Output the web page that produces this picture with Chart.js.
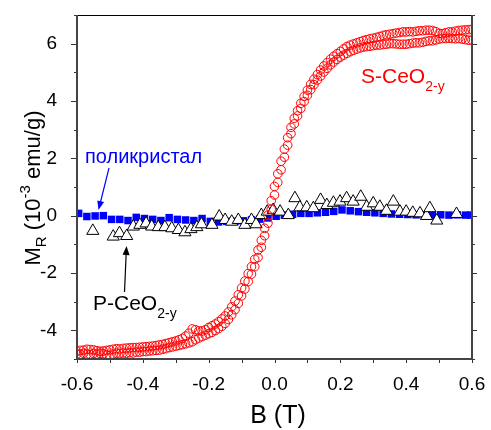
<!DOCTYPE html>
<html>
<head>
<meta charset="utf-8">
<script src="https://cdn.jsdelivr.net/npm/chart.js@4"></script>
<style>
  body { margin: 0; background: #fff; }
  #wrap { width: 491px; height: 430px; }
</style>
</head>
<body>
<div id="wrap"><canvas id="chart"></canvas></div>
<script>
// field sweep of the S-CeO2-y loop (T)
const loopField = [
  -0.60, -0.59, -0.58, -0.57, -0.56, -0.55, -0.54, -0.53, -0.52, -0.51,
  -0.50, -0.49, -0.48, -0.47, -0.46, -0.45, -0.44, -0.43, -0.42, -0.41,
  -0.40, -0.39, -0.38, -0.37, -0.36, -0.35, -0.34, -0.33, -0.32, -0.31,
  -0.30, -0.29, -0.28, -0.27, -0.26, -0.25, -0.24, -0.23, -0.22, -0.21,
  -0.20, -0.19, -0.18, -0.17, -0.16, -0.15, -0.14, -0.13, -0.12, -0.11,
  -0.10, -0.09, -0.08, -0.07, -0.06, -0.05, -0.04, -0.03, -0.02, -0.01,
  0.00, 0.01, 0.02, 0.03, 0.04, 0.05, 0.06, 0.07, 0.08, 0.09,
  0.10, 0.11, 0.12, 0.13, 0.14, 0.15, 0.16, 0.17, 0.18, 0.19,
  0.20, 0.21, 0.22, 0.23, 0.24, 0.25, 0.26, 0.27, 0.28, 0.29,
  0.30, 0.31, 0.32, 0.33, 0.34, 0.35, 0.36, 0.37, 0.38, 0.39,
  0.40, 0.41, 0.42, 0.43, 0.44, 0.45, 0.46, 0.47, 0.48, 0.49,
  0.50, 0.51, 0.52, 0.53, 0.54, 0.55, 0.56, 0.57, 0.58, 0.59, 0.60
];
// lower branch of the loop (10^-3 emu/g)
const sLoopLower = [
  -4.82, -4.84, -4.80, -4.83, -4.85, -4.81, -4.83, -4.80, -4.82, -4.86,
  -4.88, -4.83, -4.80, -4.81, -4.79, -4.80, -4.78, -4.79, -4.76, -4.76,
  -4.74, -4.74, -4.72, -4.71, -4.70, -4.69, -4.66, -4.64, -4.60, -4.58,
  -4.55, -4.53, -4.50, -4.47, -4.44, -4.40, -4.33, -4.27, -4.22, -4.17,
  -4.12, -4.07, -4.01, -3.94, -3.86, -3.76, -3.62, -3.46, -3.28, -3.06,
  -2.80, -2.56, -2.30, -2.04, -1.78, -1.46, -1.10, -0.70, -0.26, 0.22,
  0.72, 1.16, 1.60, 2.04, 2.46, 2.86, 3.20, 3.48, 3.74, 3.98,
  4.20, 4.40, 4.57, 4.73, 4.87, 5.01, 5.14, 5.26, 5.36, 5.45,
  5.53, 5.60, 5.66, 5.72, 5.77, 5.81, 5.85, 5.88, 5.90, 5.91,
  5.93, 5.95, 5.95, 5.97, 5.98, 6.00, 6.00, 5.99, 5.98, 5.98,
  5.98, 6.00, 6.02, 6.03, 6.03, 6.05, 6.08, 6.10, 6.10, 6.13,
  6.16, 6.18, 6.18, 6.19, 6.18, 6.17, 6.18, 6.16, 6.14, 6.12, 6.13
];
// upper branch of the loop
const sLoopUpper = [
  -4.74, -4.70, -4.69, -4.66, -4.67, -4.68, -4.71, -4.73, -4.72, -4.70,
  -4.68, -4.66, -4.64, -4.65, -4.63, -4.62, -4.61, -4.60, -4.60, -4.59,
  -4.58, -4.57, -4.56, -4.55, -4.53, -4.51, -4.49, -4.46, -4.43, -4.40,
  -4.37, -4.33, -4.28, -4.20, -4.10, -3.95, -3.98, -4.02, -4.02, -3.98,
  -3.90, -3.84, -3.78, -3.70, -3.60, -3.50, -3.36, -3.18, -2.98, -2.76,
  -2.52, -2.28, -2.02, -1.78, -1.52, -1.20, -0.86, -0.44, 0.02, 0.52,
  1.02, 1.46, 1.90, 2.32, 2.72, 3.08, 3.40, 3.66, 3.92, 4.16,
  4.38, 4.58, 4.76, 4.92, 5.08, 5.22, 5.34, 5.46, 5.56, 5.65,
  5.73, 5.82, 5.90, 5.95, 5.99, 6.03, 6.07, 6.11, 6.14, 6.17,
  6.19, 6.22, 6.25, 6.29, 6.31, 6.33, 6.35, 6.37, 6.39, 6.41,
  6.41, 6.42, 6.41, 6.43, 6.45, 6.45, 6.47, 6.47, 6.46, 6.42,
  6.36, 6.35, 6.38, 6.41, 6.41, 6.44, 6.46, 6.47, 6.48, 6.49, 6.50
];

// polycrystal (blue squares)
const polyField = [
  -0.595, -0.57, -0.545, -0.52, -0.495, -0.47, -0.445, -0.42, -0.395, -0.37,
  -0.345, -0.32, -0.295, -0.27, -0.245, -0.22, -0.195, -0.17, -0.145, -0.12,
  -0.095, -0.07, -0.045, -0.02, 0.005, 0.03, 0.055, 0.08, 0.105, 0.13,
  0.155, 0.18, 0.205, 0.23, 0.255, 0.28, 0.305, 0.33, 0.355, 0.38,
  0.405, 0.43, 0.455, 0.48, 0.505, 0.53, 0.555, 0.58, 0.597
];
const polyM = [
  0.08, -0.03, -0.01, 0.00, -0.13, -0.13, -0.17, -0.06, -0.10, -0.13,
  -0.17, -0.07, -0.13, -0.15, -0.17, -0.10, -0.20, -0.22, -0.20, -0.20,
  -0.18, -0.15, -0.12, -0.08, -0.02, 0.02, 0.05, 0.08, 0.08, 0.10,
  0.12, 0.15, 0.20, 0.17, 0.14, 0.12, 0.10, 0.08, 0.06, 0.05,
  0.04, 0.03, 0.02, 0.02, 0.03, 0.02, 0.03, 0.02, 0.02
];

// P-CeO2-y (open triangles)
const pField = [
  -0.552, -0.490, -0.471, -0.449, -0.429, -0.409, -0.390, -0.373, -0.353, -0.333,
  -0.312, -0.292, -0.272, -0.254, -0.236, -0.222, -0.190, -0.168, -0.150, -0.130,
  -0.110, -0.090, -0.070, -0.056, -0.040, -0.022, -0.004, 0.017, 0.042, 0.062,
  0.077, 0.098, 0.118, 0.140, 0.159, 0.179, 0.199, 0.219, 0.239, 0.262,
  0.280, 0.300, 0.320, 0.340, 0.361, 0.381, 0.400, 0.420, 0.442, 0.462,
  0.472, 0.493, 0.553
];
const pM = [
  -0.53, -0.73, -0.61, -0.71, -0.38, -0.32, -0.27, -0.38, -0.40, -0.40,
  -0.44, -0.50, -0.58, -0.47, -0.40, -0.30, -0.32, -0.03, -0.15, -0.21,
  -0.15, -0.32, -0.15, -0.30, 0.02, 0.14, 0.20, 0.14, 0.02, 0.61,
  0.29, 0.29, 0.26, 0.55, 0.37, 0.45, 0.49, 0.61, 0.49, 0.66,
  0.31, 0.43, 0.31, 0.17, 0.49, 0.14, 0.14, 0.10, 0.08, -0.01,
  0.26, -0.17, 0.06
];

const xRange = [-0.6, 0.6];
const yRange = [-5, 7];

const FONT = '"Liberation Sans", Arial, sans-serif';

function pairs(xs, ys) {
  return xs.map((x, i) => ({ x: x, y: ys[i] }));
}

// draw text made of pieces (sub/superscripts), returns width
function drawParts(ctx, parts, x, y, measureOnly) {
  let cx = x;
  parts.forEach(p => {
    ctx.font = p.size + 'px ' + FONT;
    if (!measureOnly) ctx.fillText(p.text, cx, y + (p.dy || 0));
    cx += ctx.measureText(p.text).width;
  });
  return cx - x;
}

function arrow(ctx, x1, y1, x2, y2, color) {
  const ang = Math.atan2(y2 - y1, x2 - x1);
  const len = 9, half = 3.5;
  ctx.strokeStyle = color;
  ctx.fillStyle = color;
  ctx.lineWidth = 1.2;
  ctx.beginPath();
  ctx.moveTo(x1, y1);
  ctx.lineTo(x2 - Math.cos(ang) * len * 0.8, y2 - Math.sin(ang) * len * 0.8);
  ctx.stroke();
  ctx.beginPath();
  ctx.moveTo(x2, y2);
  ctx.lineTo(x2 - Math.cos(ang) * len + Math.sin(ang) * half, y2 - Math.sin(ang) * len - Math.cos(ang) * half);
  ctx.lineTo(x2 - Math.cos(ang) * len - Math.sin(ang) * half, y2 - Math.sin(ang) * len + Math.cos(ang) * half);
  ctx.closePath();
  ctx.fill();
}

const decorations = {
  id: 'decorations',
  afterDraw(chart) {
    const ctx = chart.ctx;
    const a = chart.chartArea;
    const xs = chart.scales.x, ys = chart.scales.y;
    ctx.save();

    // tick marks (outside the frame)
    ctx.strokeStyle = '#333';
    ctx.lineWidth = 1;
    xs.ticks.forEach(t => {
      const px = Math.round(xs.getPixelForValue(t.value)) + 0.5;
      ctx.beginPath();
      ctx.moveTo(px, a.bottom);
      ctx.lineTo(px, a.bottom + 4);
      ctx.stroke();
    });
    ys.ticks.forEach(t => {
      const py = Math.round(ys.getPixelForValue(t.value)) + 0.5;
      const major = Math.round(t.value) % 2 === 0;
      ctx.beginPath();
      ctx.moveTo(a.left, py);
      ctx.lineTo(a.left - (major ? 6 : 3), py);
      ctx.moveTo(a.right, py);
      ctx.lineTo(a.right + (major ? 5 : 3), py);
      ctx.stroke();
    });

    // frame
    ctx.strokeStyle = '#000';
    ctx.lineWidth = 1;
    ctx.beginPath();
    ctx.moveTo(a.left, a.top + 0.5);
    ctx.lineTo(a.right, a.top + 0.5);
    ctx.stroke();
    ctx.strokeStyle = '#444';
    ctx.lineWidth = 2;
    ctx.beginPath();
    ctx.moveTo(a.left, a.top);
    ctx.lineTo(a.left, a.bottom);
    ctx.lineTo(a.right, a.bottom);
    ctx.lineTo(a.right, a.top);
    ctx.stroke();

    // axis titles
    ctx.fillStyle = '#000';
    ctx.textBaseline = 'alphabetic';
    ctx.textAlign = 'left';
    ctx.font = '25px ' + FONT;
    const bw = ctx.measureText('B (T)').width;
    ctx.fillText('B (T)', 278 - bw / 2, 423);

    const yTitle = [
      { text: 'M', size: 22 },
      { text: 'R', size: 15, dy: 6 },
      { text: ' (10', size: 22 },
      { text: '-3', size: 15, dy: -10 },
      { text: ' emu/g)', size: 22 }
    ];
    ctx.save();
    ctx.translate(40, 188);
    ctx.rotate(-Math.PI / 2);
    const tw = drawParts(ctx, yTitle, 0, 0, true);
    drawParts(ctx, yTitle, -tw / 2, 0);
    ctx.restore();

    // annotations
    ctx.fillStyle = '#0000ff';
    ctx.font = '20px ' + FONT;
    ctx.fillText('поликристал', 85, 163);
    arrow(ctx, 109, 168, 98.5, 210, '#0000ff');

    ctx.fillStyle = '#ff0000';
    drawParts(ctx, [
      { text: 'S-CeO', size: 21 },
      { text: '2-y', size: 14, dy: 8 }
    ], 361, 83);

    ctx.fillStyle = '#000';
    drawParts(ctx, [
      { text: 'P-CeO', size: 21 },
      { text: '2-y', size: 14, dy: 8 }
    ], 93, 310);
    arrow(ctx, 124.5, 292, 126.5, 246, '#000');

    ctx.restore();
  }
};

new Chart(document.getElementById('chart'), {
  type: 'scatter',
  data: {
    datasets: [
      {
        label: 'S-CeO2-y',
        data: pairs(loopField, sLoopLower),
        pointStyle: 'circle',
        pointRadius: 4.3,
        pointBorderWidth: 1,
        borderColor: '#ff0000',
        backgroundColor: 'rgba(0,0,0,0)',
        order: 1
      },
      {
        label: 'S-CeO2-y (back)',
        data: pairs(loopField, sLoopUpper),
        pointStyle: 'circle',
        pointRadius: 4.3,
        pointBorderWidth: 1,
        borderColor: '#ff0000',
        backgroundColor: 'rgba(0,0,0,0)',
        order: 1
      },
      {
        label: 'P-CeO2-y',
        data: pairs(pField, pM),
        pointStyle: 'triangle',
        pointRadius: 7,
        pointBorderWidth: 1,
        borderColor: '#000',
        backgroundColor: '#fff',
        order: 2
      },
      {
        label: 'поликристал',
        data: pairs(polyField, polyM),
        pointStyle: 'rect',
        pointRadius: 5.3,
        pointBorderWidth: 0,
        borderColor: '#0000ff',
        backgroundColor: '#0000ff',
        order: 3
      }
    ]
  },
  options: {
    responsive: true,
    maintainAspectRatio: false,
    animation: false,
    events: [],
    layout: { padding: { top: 15, left: 0, right: 0, bottom: 0 } },
    plugins: {
      legend: { display: false },
      tooltip: { enabled: false }
    },
    scales: {
      x: {
        type: 'linear',
        position: 'bottom',
        min: xRange[0],
        max: xRange[1],
        grid: { display: false },
        border: { display: false },
        ticks: {
          stepSize: 0.1,
          autoSkip: false,
          maxRotation: 0,
          padding: 6,
          color: '#000',
          font: { family: FONT, size: 19 },
          callback: v => (Math.round(v * 10) % 2 === 0 ? (Math.round(v * 10) / 10).toFixed(1) : '')
        },
        afterFit: s => { s.height = 71; s.paddingLeft = 0; s.paddingRight = 0; }
      },
      y: {
        type: 'linear',
        position: 'left',
        min: yRange[0],
        max: yRange[1],
        grid: { display: false },
        border: { display: false },
        ticks: {
          stepSize: 1,
          autoSkip: false,
          padding: 12,
          color: '#000',
          font: { family: FONT, size: 19 },
          callback: v => (Math.round(v) % 2 === 0 ? String(Math.round(v)) : '')
        },
        afterFit: s => { s.width = 77; s.paddingTop = 0; s.paddingBottom = 0; }
      },
      y2: {
        type: 'linear',
        position: 'right',
        min: yRange[0],
        max: yRange[1],
        grid: { display: false },
        border: { display: false },
        ticks: { display: false, stepSize: 1 },
        afterFit: s => { s.width = 19; s.paddingTop = 0; s.paddingBottom = 0; }
      }
    }
  },
  plugins: [decorations]
});
</script>
</body>
</html>
